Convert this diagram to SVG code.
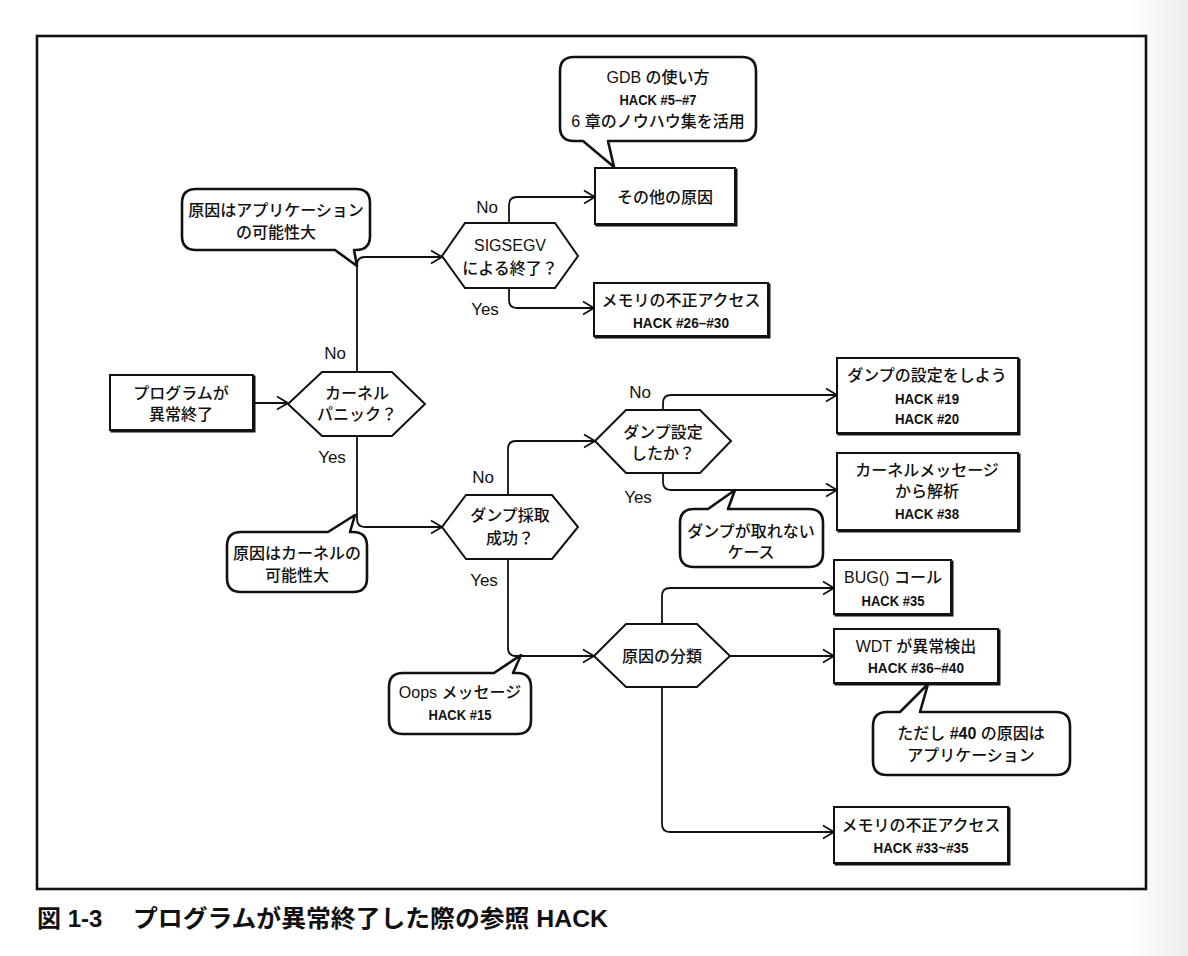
<svg xmlns="http://www.w3.org/2000/svg" width="1188" height="956" viewBox="0 0 1188 956">
<defs>
<linearGradient id="edge" x1="0" y1="0" x2="1" y2="0">
<stop offset="0" stop-color="#ffffff"/>
<stop offset="1" stop-color="#ececec"/>
</linearGradient>
<marker id="arr" markerUnits="userSpaceOnUse" markerWidth="14" markerHeight="16" viewBox="0 0 14 16" refX="12" refY="8" orient="auto">
<path d="M1,1.5 L12,8 L1,14.5" fill="none" stroke="#111" stroke-width="1.8" stroke-linejoin="miter"/>
</marker>
<style>
.box{fill:#fff;stroke:#111;stroke-width:2}
.sh{fill:none;stroke:#111;stroke-width:2}
.hex{fill:#fff;stroke:#111;stroke-width:2;stroke-linejoin:miter}
.co{fill:#fff;stroke:#111;stroke-width:2.6;stroke-linejoin:round}
.ln{fill:none;stroke:#111;stroke-width:1.8;marker-end:url(#arr)}
.t{font-family:"Liberation Sans","Noto Sans CJK JP",sans-serif;font-size:16px;font-weight:500;fill:#111;text-anchor:middle;dominant-baseline:central}
.h{font-family:"Liberation Sans Narrow","Liberation Sans",sans-serif;font-size:15px;font-weight:bold;fill:#111;text-anchor:middle;dominant-baseline:central}
.hb{font-family:"Liberation Sans Narrow","Liberation Sans",sans-serif;font-weight:bold}
.yn{font-family:"Liberation Sans",sans-serif;font-size:17px;fill:#111;text-anchor:middle;dominant-baseline:central}
.cap{font-family:"Liberation Sans","Noto Sans CJK JP",sans-serif;font-size:24px;font-weight:bold;fill:#111;dominant-baseline:central}
</style>
</defs>
<rect x="0" y="0" width="1188" height="956" fill="#fff"/>
<rect x="1130" y="0" width="58" height="956" fill="url(#edge)"/>
<rect x="37" y="36" width="1109" height="853" fill="none" stroke="#111" stroke-width="2.6"/>

<g id="connectors">
<path class="ln" d="M253,403 H288"/>
<path class="ln" d="M357,372 V265 Q357,257 365,257 H442"/>
<path class="ln" d="M509,223 V205 Q509,197 517,197 H595"/>
<path class="ln" d="M509,288 V300 Q509,308 517,308 H594"/>
<path class="ln" d="M357,436 V519 Q357,527 365,527 H442"/>
<path class="ln" d="M508,495 V449 Q508,441 516,441 H595"/>
<path class="ln" d="M508,559 V648 Q508,656 516,656 H594"/>
<path class="ln" d="M663,410 V403 Q663,395 671,395 H837"/>
<path class="ln" d="M663,473 V482 Q663,490 671,490 H837"/>
<path class="ln" d="M662,624 V596 Q662,588 670,588 H834"/>
<path class="ln" d="M730,656 H834"/>
<path class="ln" d="M662,687 V824 Q662,832 670,832 H834"/>
</g>

<g id="labels">
<text class="yn" x="487" y="207">No</text>
<text class="yn" x="485" y="309">Yes</text>
<text class="yn" x="335" y="353">No</text>
<text class="yn" x="332" y="457">Yes</text>
<text class="yn" x="483" y="477">No</text>
<text class="yn" x="484" y="580">Yes</text>
<text class="yn" x="640" y="392">No</text>
<text class="yn" x="638" y="497">Yes</text>
</g>

<g id="note-gdb">
<path class="co" d="M574,57 H742 Q756,57 756,71 V127 Q756,141 742,141 H608 L614,167 L583,141 H574 Q560,141 560,127 V71 Q560,57 574,57 Z"/>
<text class="t" x="658" y="77">GDB の使い方</text>
<text class="h" x="658" y="99" textLength="77" lengthAdjust="spacingAndGlyphs">HACK #5–#7</text>
<text class="t" x="658" y="121">6 章のノウハウ集を活用</text>
</g>

<g id="other-cause">
<rect class="sh" x="596.5" y="169.5" width="140" height="56"/>
<rect class="box" x="595" y="168" width="140" height="56"/>
<text class="t" x="665" y="197">その他の原因</text>
</g>

<g id="note-app">
<path class="co" d="M196,189 H356 Q370,189 370,203 V236 Q370,250 356,250 H354 L357,266 L335,250 H196 Q182,250 182,236 V203 Q182,189 196,189 Z"/>
<text class="t" x="276" y="210">原因はアプリケーション</text>
<text class="t" x="276" y="232">の可能性大</text>
</g>

<g id="sigsegv">
<polygon class="hex" points="442,256 465,223 555,223 578,256 555,288 465,288"/>
<text class="t" x="510" y="245">SIGSEGV</text>
<text class="t" x="510" y="268">による終了？</text>
</g>

<g id="mem-access-1">
<rect class="sh" x="595.5" y="284.5" width="174" height="53"/>
<rect class="box" x="594" y="283" width="174" height="53"/>
<text class="t" x="681" y="300">メモリの不正アクセス</text>
<text class="h" x="681" y="322" textLength="96" lengthAdjust="spacingAndGlyphs">HACK #26–#30</text>
</g>

<g id="program-abort">
<rect class="sh" x="111.5" y="376.5" width="143" height="55"/>
<rect class="box" x="110" y="375" width="143" height="55"/>
<text class="t" x="181" y="393">プログラムが</text>
<text class="t" x="181" y="414">異常終了</text>
</g>

<g id="kernel-panic">
<polygon class="hex" points="288,404 322,372 392,372 425,404 392,436 322,436"/>
<text class="t" x="357" y="393">カーネル</text>
<text class="t" x="357" y="414">パニック？</text>
</g>

<g id="note-kernel">
<path class="co" d="M241,532 H328 L355,515 L350,532 H353 Q367,532 367,546 V578 Q367,592 353,592 H241 Q227,592 227,578 V546 Q227,532 241,532 Z"/>
<text class="t" x="297" y="553">原因はカーネルの</text>
<text class="t" x="297" y="575">可能性大</text>
</g>

<g id="dump-success">
<polygon class="hex" points="442,527 466,495 552,495 578,527 552,559 466,559"/>
<text class="t" x="510" y="515">ダンプ採取</text>
<text class="t" x="510" y="538">成功？</text>
</g>

<g id="dump-config">
<polygon class="hex" points="595,441 626,410 700,410 731,441 700,473 626,473"/>
<text class="t" x="663" y="432">ダンプ設定</text>
<text class="t" x="663" y="453">したか？</text>
</g>

<g id="set-dump">
<rect class="sh" x="838.5" y="359.5" width="181" height="75"/>
<rect class="box" x="837" y="358" width="181" height="75"/>
<text class="t" x="927" y="375">ダンプの設定をしよう</text>
<text class="h" x="927" y="398" textLength="64" lengthAdjust="spacingAndGlyphs">HACK #19</text>
<text class="h" x="927" y="418" textLength="64" lengthAdjust="spacingAndGlyphs">HACK #20</text>
</g>

<g id="kernel-msg">
<rect class="sh" x="838.5" y="454.5" width="181" height="77"/>
<rect class="box" x="837" y="453" width="181" height="77"/>
<text class="t" x="927" y="470">カーネルメッセージ</text>
<text class="t" x="927" y="491">から解析</text>
<text class="h" x="927" y="513" textLength="64" lengthAdjust="spacingAndGlyphs">HACK #38</text>
</g>

<g id="note-nodump">
<path class="co" d="M694,509 H708 L735,490 L728,509 H809 Q823,509 823,523 V553 Q823,567 809,567 H694 Q680,567 680,553 V523 Q680,509 694,509 Z"/>
<text class="t" x="751" y="531">ダンプが取れない</text>
<text class="t" x="751" y="552">ケース</text>
</g>

<g id="classify">
<polygon class="hex" points="594,656 626,624 697,624 730,656 697,687 626,687"/>
<text class="t" x="662" y="656">原因の分類</text>
</g>

<g id="note-oops">
<path class="co" d="M403,673 H494 L521,655 L513,673 H517 Q531,673 531,687 V720 Q531,734 517,734 H403 Q389,734 389,720 V687 Q389,673 403,673 Z"/>
<text class="t" x="460" y="692">Oops メッセージ</text>
<text class="h" x="460" y="714" textLength="63" lengthAdjust="spacingAndGlyphs">HACK #15</text>
</g>

<g id="bug-call">
<rect class="sh" x="835.5" y="561.5" width="117" height="54"/>
<rect class="box" x="834" y="560" width="117" height="54"/>
<text class="t" x="893" y="577">BUG() コール</text>
<text class="h" x="893" y="600" textLength="63" lengthAdjust="spacingAndGlyphs">HACK #35</text>
</g>

<g id="wdt">
<rect class="sh" x="835.5" y="630.5" width="164" height="54"/>
<rect class="box" x="834" y="629" width="164" height="54"/>
<text class="t" x="916" y="646">WDT が異常検出</text>
<text class="h" x="916" y="667" textLength="96" lengthAdjust="spacingAndGlyphs">HACK #36–#40</text>
</g>

<g id="note-wdt">
<path class="co" d="M887,712 H900 L928,684 L920,712 H1056 Q1070,712 1070,726 V761 Q1070,775 1056,775 H887 Q873,775 873,761 V726 Q873,712 887,712 Z"/>
<text class="t" x="971" y="733">ただし <tspan class="hb">#40</tspan> の原因は</text>
<text class="t" x="971" y="755">アプリケーション</text>
</g>

<g id="mem-access-2">
<rect class="sh" x="835.5" y="808.5" width="174" height="56"/>
<rect class="box" x="834" y="807" width="174" height="56"/>
<text class="t" x="921" y="825">メモリの不正アクセス</text>
<text class="h" x="921" y="847" textLength="95" lengthAdjust="spacingAndGlyphs">HACK #33~#35</text>
</g>

<g id="caption">
<text class="cap" x="37" y="918">図 1-3</text>
<text class="cap" x="133" y="918" textLength="475" lengthAdjust="spacingAndGlyphs">プログラムが異常終了した際の参照 HACK</text>
</g>
</svg>
